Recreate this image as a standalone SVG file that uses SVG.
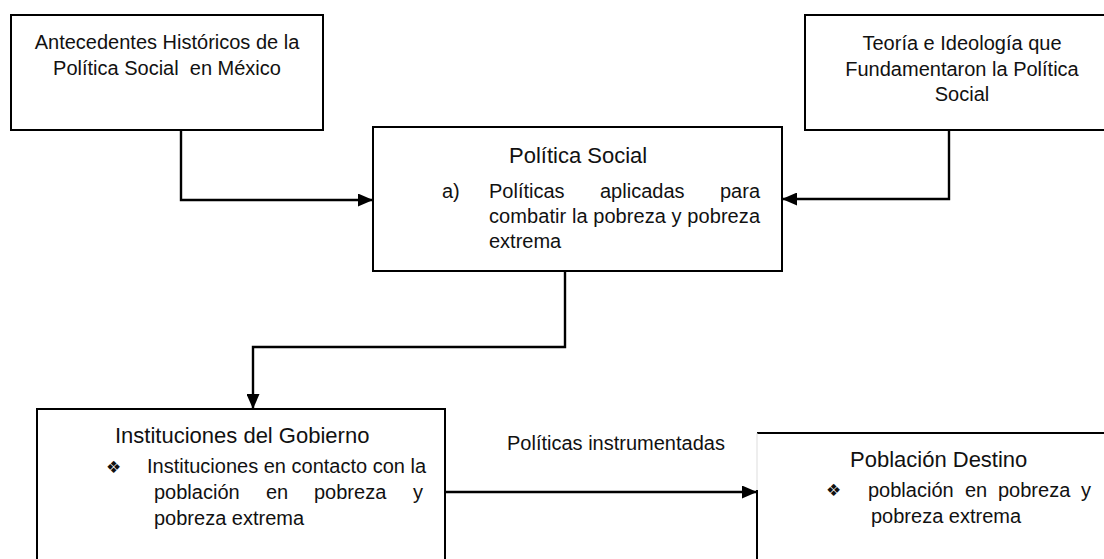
<svg xmlns="http://www.w3.org/2000/svg" width="1104" height="559" viewBox="0 0 1104 559">
<style>
.box{fill:#fff;stroke:#000;stroke-width:2}
.t{font-family:"Liberation Sans",Arial,sans-serif;font-size:20px;fill:#111;white-space:pre}
.h{font-family:"Liberation Sans",Arial,sans-serif;font-size:22px;fill:#111}
.c{text-anchor:middle}
.e{text-anchor:end}
.b{font-family:"DejaVu Sans",sans-serif;font-size:17px;fill:#111}
.con{fill:none;stroke:#000;stroke-width:2.4}
</style>
<defs>
<marker id="arr" markerWidth="15" markerHeight="13" refX="15" refY="6.5" orient="auto" markerUnits="userSpaceOnUse">
<path d="M0,0 L15,6.5 L0,13 Z" fill="#000"/>
</marker>
</defs>
<rect width="1104" height="559" fill="#fff"/>
<g id="antecedentes">
<rect class="box" x="11" y="15" width="312" height="115"/>
<text class="t c" x="167" y="49">Antecedentes Históricos de la</text>
<text class="t c" x="167" y="75" xml:space="preserve">Política Social  en México</text>
</g>
<g id="teoria">
<rect class="box" x="805" y="15" width="310" height="115"/>
<text class="t c" x="962" y="50">Teoría e Ideología que</text>
<text class="t c" x="962" y="76">Fundamentaron la Política</text>
<text class="t c" x="962" y="101">Social</text>
</g>
<g id="politica-social">
<rect class="box" x="373" y="127" width="409" height="144"/>
<text class="h" x="509" y="163">Política Social</text>
<text class="t" x="442" y="198">a)</text>
<text class="t" x="489" y="198">Políticas</text>
<text class="t" x="600" y="198">aplicadas</text>
<text class="t e" x="760" y="198">para</text>
<text class="t" x="489" y="223" textLength="271" lengthAdjust="spacing">combatir la pobreza y pobreza</text>
<text class="t" x="489" y="248">extrema</text>
</g>
<g id="instituciones">
<rect class="box" x="37" y="409" width="408" height="170"/>
<text class="h" x="115" y="443">Instituciones del Gobierno</text>
<text class="b" x="106" y="473">❖</text>
<text class="t" x="147" y="473">Instituciones en contacto con la</text>
<text class="t" x="154" y="499">población</text>
<text class="t" x="266" y="499">en</text>
<text class="t" x="314" y="499">pobreza</text>
<text class="t e" x="423" y="499">y</text>
<text class="t" x="154" y="525">pobreza extrema</text>
</g>
<g id="poblacion">
<path d="M757,433 H1110" fill="none" stroke="#000" stroke-width="2"/>
<path d="M757,433 V490" fill="none" stroke="#ddd" stroke-width="1"/>
<path d="M757,490 V570" fill="none" stroke="#000" stroke-width="2"/>
<text class="h" x="850" y="467">Población Destino</text>
<text class="b" x="826" y="496">❖</text>
<text class="t" x="868" y="497">población</text>
<text class="t" x="965" y="497">en</text>
<text class="t" x="998" y="497">pobreza</text>
<text class="t e" x="1091" y="497">y</text>
<text class="t" x="871" y="523">pobreza extrema</text>
</g>
<g id="connectors">
<path class="con" d="M181,130 V200 H373" marker-end="url(#arr)"/>
<path class="con" d="M949,130 V199 H782" marker-end="url(#arr)"/>
<path class="con" d="M565,271 V347 H253 V409" marker-end="url(#arr)"/>
<path class="con" d="M445,492 H757" marker-end="url(#arr)"/>
<text class="t" x="507" y="450">Políticas instrumentadas</text>
</g>
</svg>
